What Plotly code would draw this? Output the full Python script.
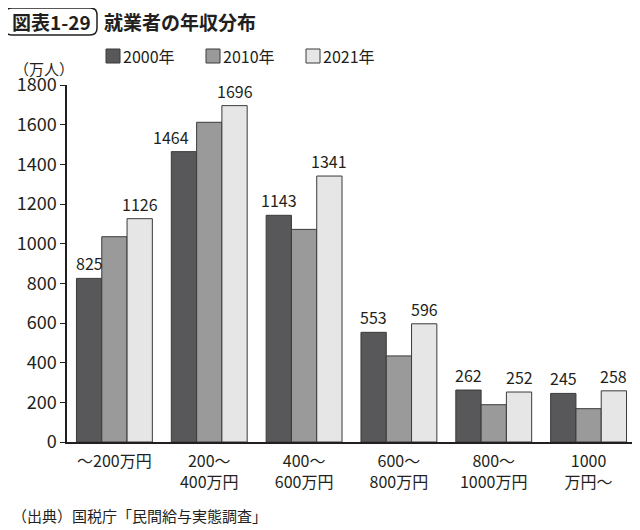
import plotly.graph_objects as go

# ── Data ─────────────────────────────────────────────────────────────────────
CATEGORIES = ["～200万円", "200～<br>400万円", "400～<br>600万円",
              "600～<br>800万円", "800～<br>1000万円", "1000<br>万円～"]
SERIES = ["2000年", "2010年", "2021年"]
Y2000 = [825, 1464, 1143, 553, 262, 245]
Y2010 = [1035, 1612, 1072, 434, 188, 168]
Y2021 = [1126, 1696, 1341, 596, 252, 258]
YTICKS = [0, 200, 400, 600, 800, 1000, 1200, 1400, 1600, 1800]

# ── Style ────────────────────────────────────────────────────────────────────
FONT = "Noto Sans CJK JP, Noto Sans, sans-serif"
INK = "#231f20"
EDGE = "#3a3a3a"
COLORS = ["#58585a", "#9a9a9a", "#e6e6e6"]
BARGAP = 0.2

# the page body has an 8px margin, so the figure is drawn 8px in from the corner
OFF = 8
W, H = 632, 522
L, R, T, B = 59, 4, 77, 88
PW, PH = W - L - R, H - T - B
BAR_W = PW / len(CATEGORIES) * (1 - BARGAP) / len(SERIES)


def px(x):
    # page pixel -> paper x
    return (x - OFF - L) / PW


def py(y):
    # page pixel -> paper y
    return (H - B - (y - OFF)) / PH


fig = go.Figure()
for name, vals, color in zip(SERIES, [Y2000, Y2010, Y2021], COLORS):
    fig.add_trace(go.Bar(
        x=CATEGORIES, y=vals, name=name,
        marker=dict(color=color, line=dict(color=EDGE, width=1)),
    ))

# value labels for 2000 and 2021 (2010 unlabeled)
for vals, shift in [(Y2000, -BAR_W), (Y2021, BAR_W)]:
    for cat, v in zip(CATEGORIES, vals):
        nudge = -13 if v == 1464 else 0   # pulled left in the original
        fig.add_annotation(x=cat, y=v, text=str(v), showarrow=False,
                           xanchor="center", yanchor="bottom",
                           xshift=shift + nudge, yshift=1,
                           font=dict(size=16, color=INK))

fig.update_layout(
    width=W, height=H,
    paper_bgcolor="white", plot_bgcolor="white",
    font=dict(family=FONT, color=INK, size=16),
    margin=dict(l=L, r=R, t=T, b=B, autoexpand=False),
    barmode="group", bargap=BARGAP, bargroupgap=0,
    showlegend=False,
    xaxis=dict(showline=True, linecolor=INK, linewidth=1.5, ticks="",
               tickfont=dict(size=16), showgrid=False, automargin=False,
               ticklabelstandoff=4),
    yaxis=dict(range=[0, 1800], tickvals=YTICKS, showline=True, linecolor=INK,
               linewidth=1.5, ticks="outside", ticklen=5, tickcolor=INK,
               showgrid=False, zeroline=False, tickfont=dict(size=18),
               automargin=False),
)

# legend drawn by hand: square directly next to the label
for i, (name, color) in enumerate(zip(SERIES, COLORS)):
    x0 = 106 + i * 100
    fig.add_shape(type="rect", xref="paper", yref="paper",
                  x0=px(x0), x1=px(x0 + 14), y0=py(63), y1=py(49),
                  fillcolor=color, line=dict(color=EDGE, width=1))
    fig.add_annotation(text=name, xref="paper", yref="paper",
                       x=px(x0 + 15), y=py(56), xanchor="left", yanchor="middle",
                       showarrow=False, font=dict(size=16, color=INK))

# rounded box around the figure number
x0, x1, y0, y1, r = px(5), px(97), py(35), py(8), 7
rx, ry = r / PW, r / PH
fig.add_shape(type="path", xref="paper", yref="paper",
              path=(f"M {x0 + rx},{y1} L {x1 - rx},{y1} Q {x1},{y1} {x1},{y1 - ry} "
                    f"L {x1},{y0 + ry} Q {x1},{y0} {x1 - rx},{y0} L {x0 + rx},{y0} "
                    f"Q {x0},{y0} {x0},{y0 + ry} L {x0},{y1 - ry} Q {x0},{y1} {x0 + rx},{y1} Z"),
              line=dict(color=INK, width=1.5))

fig.add_annotation(text="<b>図表1-29</b>", xref="paper", yref="paper",
                   x=px(51), y=py(22), xanchor="center", yanchor="middle",
                   showarrow=False, font=dict(size=19, color=INK))
fig.add_annotation(text="<b>就業者の年収分布</b>", xref="paper", yref="paper",
                   x=px(102), y=py(22), xanchor="left", yanchor="middle",
                   showarrow=False, font=dict(size=19, color=INK))
fig.add_annotation(text="（万人）", xref="paper", yref="paper",
                   x=px(12), y=py(69), xanchor="left", yanchor="middle",
                   showarrow=False, font=dict(size=15, color=INK))
fig.add_annotation(text="（出典）国税庁「民間給与実態調査」", xref="paper", yref="paper",
                   x=px(10), y=py(515), xanchor="left", yanchor="middle",
                   showarrow=False, font=dict(size=15, color=INK))

fig.write_html("out.html")
